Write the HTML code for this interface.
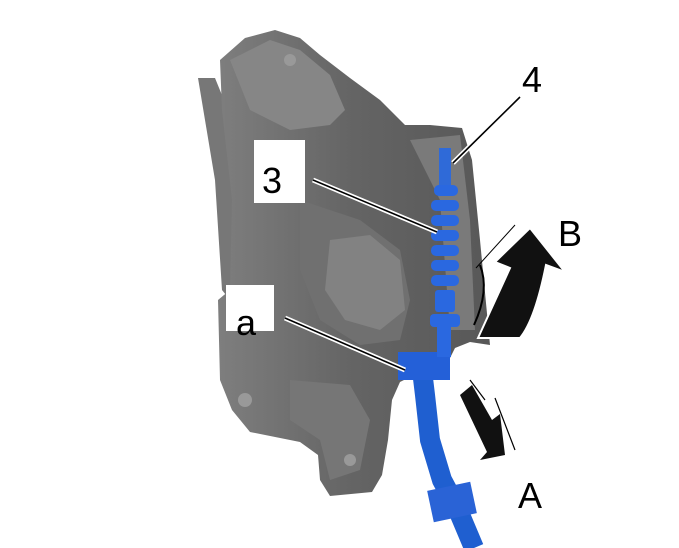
<!DOCTYPE html>
<html><head><style>body{margin:0;background:#fff}svg{display:block}text{font-family:"Liberation Sans",sans-serif}</style></head><body>
<svg width="679" height="548" viewBox="0 0 679 548" xmlns="http://www.w3.org/2000/svg">
<defs><linearGradient id="g" x1="0" y1="0" x2="1" y2="0"><stop offset="0" stop-color="#7e7e7e"/><stop offset="0.5" stop-color="#646464"/><stop offset="1" stop-color="#585858"/></linearGradient></defs>
<path d="M198,78 L215,78 L228,110 L240,200 L245,290 L230,300 L222,290 L215,180 Z" fill="#777"/>
<path d="M220,60 L245,38 L275,30 L300,38 L320,55 L350,78 L380,100 L405,125 L430,125 L462,128 L472,160 L480,240 L490,345 L470,342 L455,348 L448,362 L420,372 L400,382 L392,400 L388,440 L382,475 L372,492 L330,496 L320,480 L318,455 L300,442 L250,432 L232,410 L220,380 L218,300 L230,290 L232,200 L222,110 Z" fill="url(#g)"/>
<path d="M230,60 L270,40 L300,50 L330,75 L345,110 L330,125 L290,130 L250,110 Z" fill="#868686"/>
<path d="M300,200 L360,220 L400,250 L410,300 L400,340 L360,345 L320,320 L300,270 Z" fill="#707070"/>
<path d="M330,240 L370,235 L400,260 L405,310 L380,330 L345,320 L325,290 Z" fill="#828282"/>
<path d="M290,380 L350,385 L370,420 L360,470 L330,480 L320,440 L290,420 Z" fill="#767676"/>
<path d="M410,140 L460,135 L470,220 L475,330 L450,330 L440,200 Z" fill="#7a7a7a"/>
<circle cx="245" cy="400" r="7" fill="#999"/><circle cx="350" cy="460" r="6" fill="#999"/><circle cx="290" cy="60" r="6" fill="#999"/>
<path d="M474,548 L458,510 L442,480 L430,440 L425,395 L422,370" stroke="#1f5fd0" stroke-width="20" fill="none"/>
<rect x="430" y="486" width="44" height="32" fill="#2a63d6" transform="rotate(-12 452 502)"/>
<rect x="398" y="352" width="52" height="28" fill="#2460d8"/>
<rect x="439" y="148" width="12" height="40" fill="#2f6ad8"/>
<g fill="#2a68e0">
<rect x="434" y="185" width="24" height="11" rx="5"/><rect x="431" y="200" width="28" height="11" rx="5"/><rect x="431" y="215" width="28" height="11" rx="5"/><rect x="431" y="230" width="28" height="11" rx="5"/><rect x="431" y="245" width="28" height="11" rx="5"/><rect x="431" y="260" width="28" height="11" rx="5"/><rect x="431" y="275" width="28" height="11" rx="5"/><rect x="435" y="290" width="20" height="22" rx="3"/><rect x="430" y="314" width="30" height="13" rx="4"/>
<rect x="437" y="327" width="14" height="30"/>
</g>
<path d="M478,338 Q500,290 510,268 L495,262 L530,228 L565,272 L546,265 Q535,320 520,338 Z" fill="#111" stroke="#fff" stroke-width="2"/>
<path d="M476,268 L515,225" stroke="#000" stroke-width="1"/>
<path d="M474,325 Q490,290 480,265" stroke="#000" stroke-width="2" fill="none"/>
<path d="M460,395 L472,385 L492,420 L500,414 L505,455 L480,460 L487,452 Z" fill="#111"/>
<path d="M470,380 L485,400 M495,398 L515,450" stroke="#000" stroke-width="1.2"/>
<g stroke="#fff" stroke-width="5"><line x1="520" y1="97" x2="453" y2="163"/><line x1="313" y1="180" x2="437" y2="232"/><line x1="285" y1="318" x2="405" y2="370"/></g>
<g stroke="#000" stroke-width="1.6"><line x1="520" y1="97" x2="453" y2="163"/><line x1="313" y1="180" x2="437" y2="232"/><line x1="285" y1="318" x2="405" y2="370"/></g>
<rect x="254" y="140" width="51" height="63" fill="#fff"/>
<rect x="226" y="285" width="48" height="46" fill="#fff"/>
<g font-size="36" fill="#000">
<text x="262" y="193">3</text><text x="236" y="335">a</text>
<text x="522" y="92">4</text><text x="558" y="246">B</text><text x="518" y="508">A</text>
</g>
</svg>
</body></html>
